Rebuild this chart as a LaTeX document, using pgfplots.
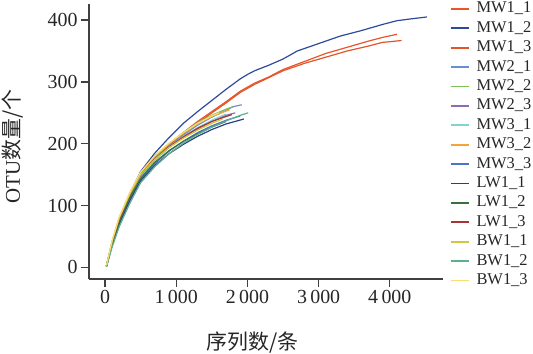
\documentclass[border=0pt]{standalone}
\usepackage{pgfplots}
\pgfplotsset{compat=1.18}
\usepackage{fontspec}
\setmainfont{Liberation Serif}
\newfontfamily\cjk{Noto Sans CJK SC}
\definecolor{c1}{HTML}{E8542C}
\definecolor{c2}{HTML}{2E4A9C}
\definecolor{c3}{HTML}{E0562A}
\definecolor{c4}{HTML}{6A8ED4}
\definecolor{c5}{HTML}{7CC154}
\definecolor{c6}{HTML}{8A6CB0}
\definecolor{c7}{HTML}{7ED3D3}
\definecolor{c8}{HTML}{F3A53A}
\definecolor{c9}{HTML}{4E74C4}
\definecolor{c10}{HTML}{2A3E8E}
\definecolor{c11}{HTML}{3D6E3D}
\definecolor{c12}{HTML}{A83434}
\definecolor{c13}{HTML}{D2C640}
\definecolor{c14}{HTML}{5CB08C}
\definecolor{c15}{HTML}{F6DE74}
\begin{document}
\begin{tikzpicture}
\begin{axis}[name=ax, scale only axis, width=354bp, height=275bp,
  xmin=-225, xmax=4747, ymin=-18.7, ymax=426,
  axis x line*=bottom, axis y line*=left,
  axis line style={line width=1.3bp, color=black!75},
  tick style={line width=1.3bp, color=black!75},
  tick align=outside, major tick length=8bp,
  xtick={0,1000,2000,3000,4000},
  xticklabels={0,1\,000,2\,000,3\,000,4\,000},
  ytick={0,100,200,300,400},
  /pgf/number format/assume math mode=true,
  ticklabel style={font=\fontsize{20}{22}\selectfont, color=black!85},
  xlabel={\fontsize{21}{24}\selectfont\cjk 序列数/条},
  ylabel={\fontsize{21}{24}\selectfont OTU{\cjk 数量/个}},
  every axis y label/.style={at={(axis description cs:-0.215,0.481)}, rotate=90, anchor=center, color=black!85},
  every axis x label/.style={at={(axis description cs:0.463,-0.232)}, anchor=center, color=black!85},
  legend cell align=left,
  legend style={at={(axis description cs:1.01,1.023)}, anchor=north west, draw=none, fill=none,
    font=\fontsize{16.5}{18}\selectfont, row sep=1.4bp,
    nodes={inner sep=1bp, text height=12bp, text depth=4bp, text=black!85},
    /tikz/every odd column/.append style={column sep=6bp}},
  legend image code/.code={\draw[#1, line width=1.8bp] (0bp,0bp) -- (18bp,0bp);},
  every axis plot/.append style={line width=1.2bp},
]
\addplot[c1] coordinates {(20,2) (100,40) (200,78) (350,118) (500,152) (700,180) (900,200) (1100,218) (1300,236) (1500,252) (1700,268) (1900,285) (2100,298) (2300,308) (2500,320) (2800,333) (3100,346) (3400,356) (3700,366) (3900,372) (4100,377)};
\addlegendentry{MW1\_1}
\addplot[c2] coordinates {(20,2) (100,40) (200,80) (350,120) (500,155) (700,185) (900,210) (1100,233) (1300,252) (1500,270) (1700,288) (1900,305) (2000,312) (2100,318) (2300,327) (2500,337) (2700,350) (3000,362) (3300,374) (3600,383) (3900,393) (4100,399) (4300,402) (4520,405)};
\addlegendentry{MW1\_2}
\addplot[c3] coordinates {(20,2) (100,38) (200,76) (350,116) (500,150) (700,178) (900,198) (1100,216) (1300,233) (1500,250) (1700,266) (1900,283) (2100,296) (2300,307) (2500,318) (2800,330) (3100,340) (3400,350) (3700,358) (3900,364) (4000,365) (4166,367)};
\addlegendentry{MW1\_3}
\addplot[c4] coordinates {(20,2) (100,40) (200,76) (350,116) (500,148) (700,176) (900,196) (1100,214) (1300,230) (1500,243) (1700,254) (1800,260) (1920,263)};
\addlegendentry{MW2\_1}
\addplot[c5] coordinates {(20,2) (100,39) (200,75) (350,116) (500,150) (700,178) (900,200) (1100,218) (1300,234) (1500,246) (1700,256) (1800,260)};
\addlegendentry{MW2\_2}
\addplot[c6] coordinates {(20,2) (100,38) (200,74) (350,114) (500,147) (700,174) (900,194) (1100,210) (1300,224) (1500,236) (1700,246) (1830,250)};
\addlegendentry{MW2\_3}
\addplot[c7] coordinates {(20,2) (100,37) (200,72) (350,112) (500,145) (700,173) (900,194) (1100,212) (1300,226) (1500,238) (1700,248)};
\addlegendentry{MW3\_1}
\addplot[c8] coordinates {(20,3) (100,42) (200,80) (350,120) (500,152) (700,180) (900,200) (1100,217) (1300,232) (1500,244) (1750,255)};
\addlegendentry{MW3\_2}
\addplot[c9] coordinates {(20,2) (100,37) (200,72) (350,110) (500,142) (700,168) (900,188) (1100,204) (1300,218) (1500,229) (1700,238) (1900,245)};
\addlegendentry{MW3\_3}
\addplot[c10] coordinates {(20,2) (100,36) (200,70) (350,108) (500,140) (700,165) (900,184) (1100,199) (1300,212) (1500,223) (1700,232) (1950,240)};
\addlegendentry{LW1\_1}
\addplot[c11] coordinates {(20,2) (100,38) (200,74) (350,113) (500,144) (700,170) (900,189) (1100,204) (1300,216) (1500,227) (1700,236)};
\addlegendentry{LW1\_2}
\addplot[c12] coordinates {(20,2) (100,41) (200,78) (350,118) (500,150) (700,176) (900,195) (1100,211) (1300,225) (1500,236) (1700,244) (1780,247)};
\addlegendentry{LW1\_3}
\addplot[c13] coordinates {(20,3) (100,42) (200,80) (350,119) (500,150) (700,175) (900,194) (1100,209) (1300,222) (1500,233) (1650,240)};
\addlegendentry{BW1\_1}
\addplot[c14] coordinates {(20,1) (100,33) (200,66) (350,104) (500,137) (700,163) (900,184) (1100,201) (1300,215) (1500,227) (1700,237) (1900,246) (2010,250)};
\addlegendentry{BW1\_2}
\addplot[c15] coordinates {(20,3) (100,44) (200,82) (350,122) (500,154) (700,181) (900,201) (1100,218) (1300,233) (1500,245) (1600,250)};
\addlegendentry{BW1\_3}
\end{axis}
\pgfresetboundingbox
\path[use as bounding box] ([xshift=-89bp,yshift=-74.7bp]ax.south west) rectangle ([xshift=90bp,yshift=4bp]ax.north east);
\end{tikzpicture}
\end{document}
